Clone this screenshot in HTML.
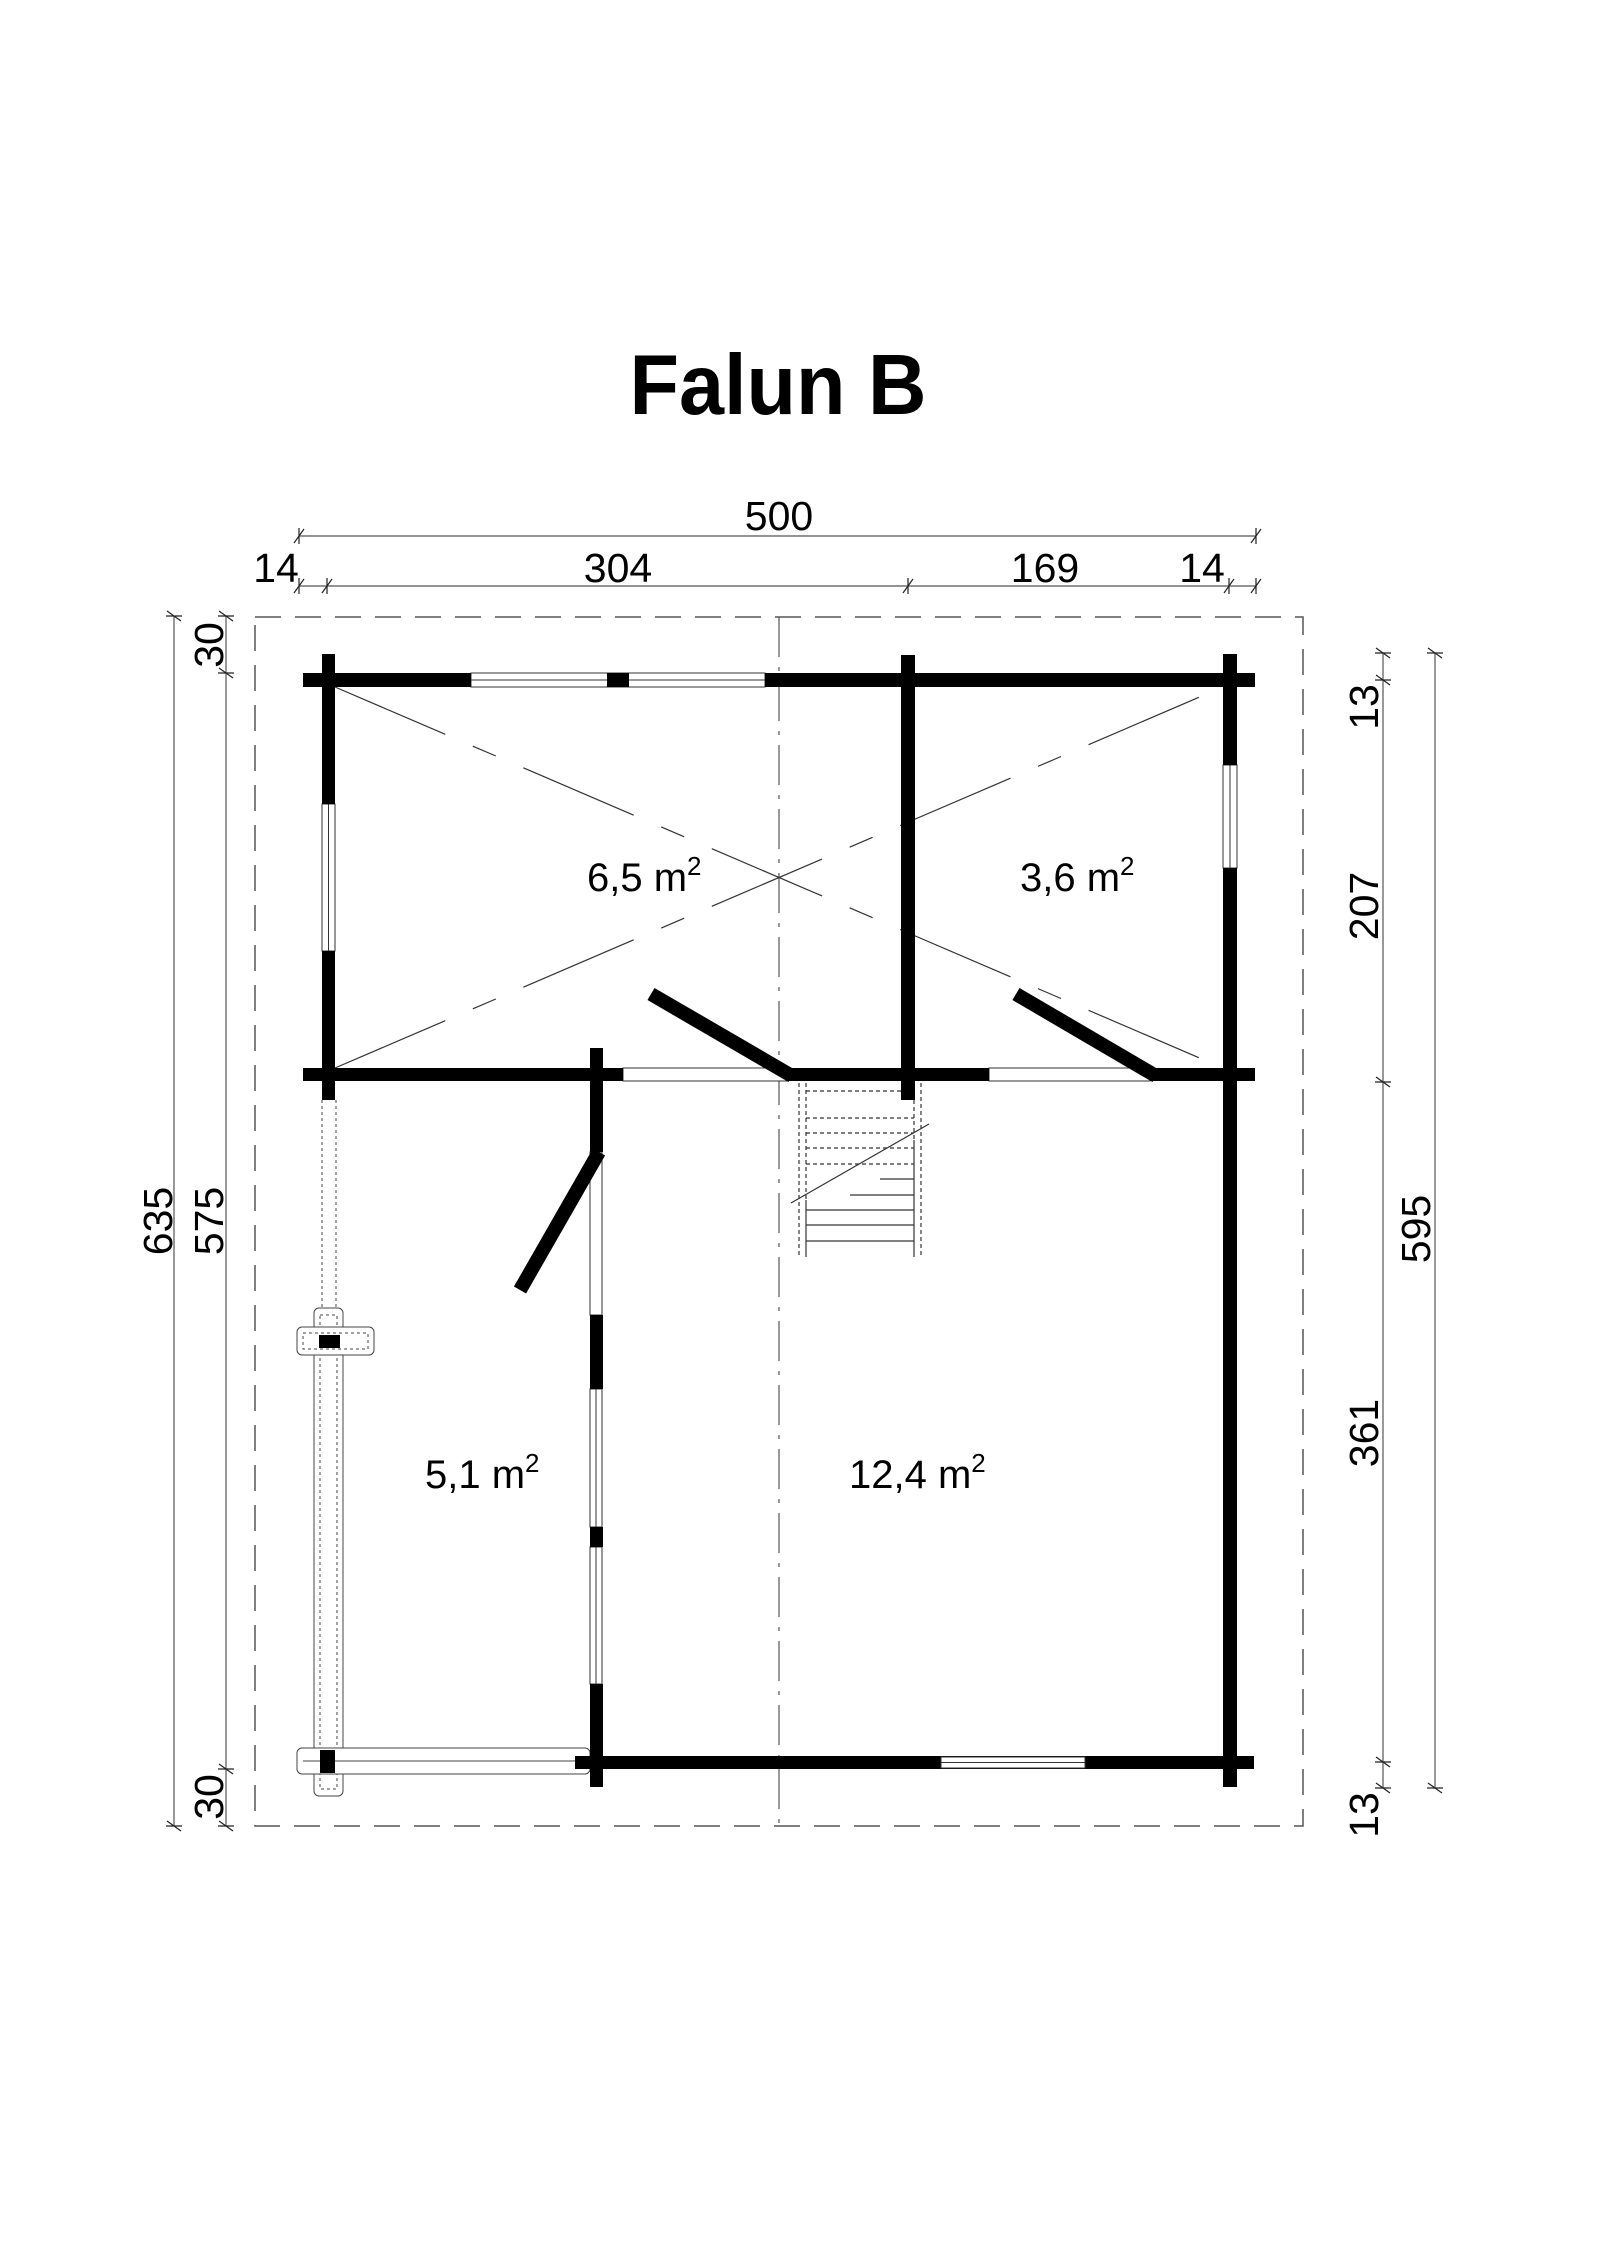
<!DOCTYPE html>
<html><head><meta charset="utf-8"><style>html,body{margin:0;padding:0;background:#fff}svg{display:block}</style></head>
<body>
<svg width="1600" height="2263" viewBox="0 0 1600 2263" xmlns="http://www.w3.org/2000/svg" font-family="Liberation Sans, Arial, sans-serif">
<rect width="1600" height="2263" fill="#fff"/>
<text x="778" y="414" font-size="85" font-weight="bold" text-anchor="middle" textLength="297" lengthAdjust="spacingAndGlyphs">Falun B</text>

<!-- dashed outline -->
<rect x="255" y="617" width="1048" height="1209" fill="none" stroke="#555" stroke-width="1.5" stroke-dasharray="26 14"/>
<line x1="779" y1="617" x2="779" y2="1826" stroke="#555" stroke-width="1.2" stroke-dasharray="40 10 4 10"/>

<!-- diagonals -->
<g stroke="#333" stroke-width="1.2" stroke-dasharray="120 30 25 30">
<line x1="335" y1="687" x2="1223" y2="1068"/>
<line x1="335" y1="1068" x2="1223" y2="687"/>
</g>

<!-- dimensions -->
<g stroke="#555" stroke-width="1.2">
<line x1="299" y1="536" x2="1256" y2="536"/>
<line x1="299" y1="586" x2="1256" y2="586"/>
<line x1="174" y1="616" x2="174" y2="1826"/>
<line x1="226" y1="616" x2="226" y2="1826"/>
<line x1="1383" y1="653" x2="1383" y2="1788"/>
<line x1="1435" y1="653" x2="1435" y2="1788"/>
</g>
<g stroke="#222" stroke-width="1.2">
<path d="M299 528v16M294 543l10-14M1256 528v16M1251 543l10-14"/>
<path d="M299 578v16M294 593l10-14M327 578v16M322 593l10-14M908 578v16M903 593l10-14M1229 578v16M1224 593l10-14M1256 578v16M1251 593l10-14"/>
<path d="M166 616h16M167 611l14 10M166 1826h16M167 1821l14 10"/>
<path d="M218 616h16M219 611l14 10M218 673h16M219 668l14 10M218 1769h16M219 1764l14 10M218 1826h16M219 1821l14 10"/>
<path d="M1375 653h16M1376 648l14 10M1375 680h16M1376 675l14 10M1375 1082h16M1376 1077l14 10M1375 1762h16M1376 1757l14 10M1375 1788h16M1376 1783l14 10"/>
<path d="M1427 653h16M1428 648l14 10M1427 1788h16M1428 1783l14 10"/>
</g>
<g font-size="41" fill="#000">
<text x="779" y="530" text-anchor="middle">500</text>
<text x="276" y="582" text-anchor="middle">14</text>
<text x="618" y="582" text-anchor="middle">304</text>
<text x="1045" y="582" text-anchor="middle">169</text>
<text x="1202" y="582" text-anchor="middle">14</text>
<text transform="translate(172,1221) rotate(-90)" text-anchor="middle">635</text>
<text transform="translate(223,1221) rotate(-90)" text-anchor="middle">575</text>
<text transform="translate(223,645) rotate(-90)" text-anchor="middle">30</text>
<text transform="translate(223,1797) rotate(-90)" text-anchor="middle">30</text>
<text transform="translate(1378,707) rotate(-90)" text-anchor="middle">13</text>
<text transform="translate(1378,906) rotate(-90)" text-anchor="middle">207</text>
<text transform="translate(1378,1433) rotate(-90)" text-anchor="middle">361</text>
<text transform="translate(1378,1815) rotate(-90)" text-anchor="middle">13</text>
<text transform="translate(1430,1229) rotate(-90)" text-anchor="middle">595</text>
</g>

<!-- porch -->
<g fill="none" stroke="#444" stroke-width="1">
<line x1="322" y1="1100" x2="322" y2="1308" stroke-dasharray="3 3"/>
<line x1="336" y1="1100" x2="336" y2="1308" stroke-dasharray="3 3"/>
<rect x="314" y="1308" width="29" height="488" rx="5" fill="#fff"/>
<rect x="320" y="1315" width="17" height="474" stroke-dasharray="3 3"/>
<rect x="297" y="1327" width="77" height="28" rx="5" fill="#fff"/>
<rect x="303" y="1333" width="65" height="16" stroke-dasharray="3 3"/>
<rect x="297" y="1748" width="293" height="26" rx="5" fill="#fff"/>
<line x1="303" y1="1761" x2="585" y2="1761"/>
</g>
<rect x="319" y="1335" width="21" height="13" fill="#000"/>
<rect x="320" y="1750" width="15" height="23" fill="#000"/>

<!-- stairs -->
<g stroke="#333" stroke-width="1.2" fill="none">
<path d="M799 1083V1257M921 1083V1257" stroke-dasharray="4 3"/>
<path d="M806 1083V1200M914 1100V1140" stroke-dasharray="4 3"/>
<path d="M806 1200V1257M914 1140V1257"/>
<path d="M806 1091H914M806 1118H914M806 1133H914M806 1148H914M806 1164H914" stroke-dasharray="4 3"/>
<path d="M880 1179H914M850 1195H914M806 1210H914M806 1225H914M806 1241H914"/>
<line x1="929" y1="1124" x2="791" y2="1203"/>
</g>

<!-- windows / openings (thin lines) -->
<g fill="#fff" stroke="#333" stroke-width="1">
<rect x="471" y="673" width="294" height="14"/>
<line x1="471" y1="680" x2="765" y2="680"/>
<rect x="322" y="804" width="13" height="147"/>
<line x1="328.5" y1="804" x2="328.5" y2="951"/>
<rect x="1223" y="765" width="14" height="103"/>
<line x1="1230" y1="765" x2="1230" y2="868"/>
<rect x="623" y="1068" width="165" height="13"/>
<rect x="989" y="1068" width="161" height="13"/>
<rect x="590" y="1152" width="12" height="163"/>
<rect x="590" y="1389" width="12" height="138"/>
<line x1="596" y1="1389" x2="596" y2="1527"/>
<rect x="590" y="1547" width="12" height="137"/>
<line x1="596" y1="1547" x2="596" y2="1684"/>
</g>

<!-- walls -->
<g fill="#000">
<rect x="303" y="673" width="168" height="14"/>
<rect x="607" y="673" width="22" height="14"/>
<rect x="765" y="673" width="490" height="14"/>
<rect x="322" y="654" width="13" height="150"/>
<rect x="322" y="951" width="13" height="149"/>
<rect x="901" y="655" width="14" height="445"/>
<rect x="1223" y="654" width="14" height="111"/>
<rect x="1223" y="868" width="14" height="919"/>
<rect x="303" y="1068" width="320" height="13"/>
<rect x="786" y="1068" width="203" height="13"/>
<rect x="1150" y="1068" width="105" height="13"/>
<rect x="590" y="1048" width="13" height="104"/>
<rect x="590" y="1315" width="13" height="74"/>
<rect x="590" y="1527" width="13" height="20"/>
<rect x="590" y="1684" width="13" height="103"/>
<rect x="575" y="1756" width="679" height="13"/>
</g>
<rect x="941" y="1757" width="144" height="11" fill="#fff" stroke="#333" stroke-width="1"/>
<line x1="941" y1="1762.5" x2="1085" y2="1762.5" stroke="#333"/>
<g stroke="#000" stroke-width="14" stroke-linecap="butt">
<line x1="792" y1="1076" x2="651" y2="994"/>
<line x1="1156" y1="1076" x2="1016" y2="994"/>
<line x1="599" y1="1152" x2="520" y2="1290"/>
</g>

<!-- room labels -->
<g font-size="40" fill="#000">
<text x="587" y="891">6,5 m<tspan font-size="26" dy="-16">2</tspan></text>
<text x="1020" y="891">3,6 m<tspan font-size="26" dy="-16">2</tspan></text>
<text x="425" y="1488">5,1 m<tspan font-size="26" dy="-16">2</tspan></text>
<text x="849" y="1488">12,4 m<tspan font-size="26" dy="-16">2</tspan></text>
</g>
</svg>
</body></html>
